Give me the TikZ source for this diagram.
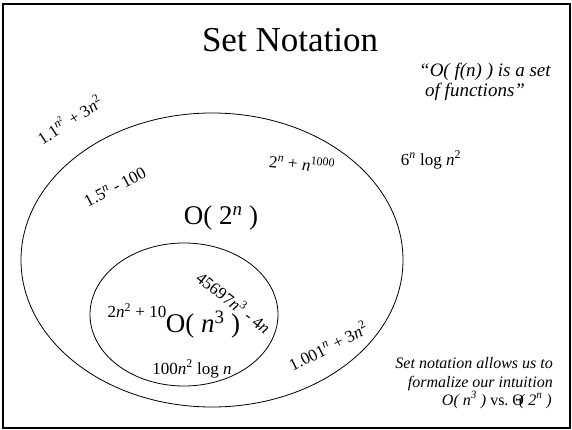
\documentclass[tikz,border=0pt]{standalone}
\usepackage{fontspec}
\setmainfont{Liberation Serif}
\usetikzlibrary{shapes.geometric}
\newcommand{\supr}[1]{\textsuperscript{#1}}
\newcommand{\ii}[1]{\textit{#1}}
\begin{document}
\begin{tikzpicture}[x=1pt,y=-1pt,
  lbl/.style={font=\fontsize{17}{20}\selectfont, inner sep=0pt},
  big/.style={font=\fontsize{27}{30}\selectfont, inner sep=0pt},
  note/.style={font=\fontsize{16}{19}\selectfont\itshape, inner sep=0pt},
  quote/.style={font=\fontsize{19}{20}\selectfont\itshape, inner sep=0pt},
  setring/.style={draw, ellipse, inner sep=0pt, line width=0.8pt}]
\useasboundingbox (0,0) rectangle (572,430);
\draw[line width=2pt] (3,4) rectangle (569.5,428);
\node[font=\fontsize{35}{40}\selectfont, anchor=base, inner sep=0pt] (title) at (290,52) {Set Notation};
\node[quote, anchor=base west] (q1) at (419,77) {“O( f(n) ) is a set};
\node[quote, anchor=base west] (q2) at (425,97) {of functions”};
\node[setring, minimum width=382pt, minimum height=294pt] (outer) at (212,260) {};
\node[setring, minimum width=188pt, minimum height=143pt] (inner) at (184,314.5) {};
\node[lbl, rotate=33] (l11) at (69,119) {1.1\supr{\ii{n}\supr{2}} + 3\ii{n}\supr{2}};
\node[lbl, rotate=28] (l15) at (115,187) {1.5\supr{\ii{n}} - 100};
\node[lbl, rotate=-5] (l2n) at (302,163) {2\supr{\ii{n}} + \ii{n}\supr{1000}};
\node[lbl] (l6n) at (431,160) {6\supr{\ii{n}} log \ii{n}\supr{2}};
\node[big] (o2n) at (221,218) {O( 2\supr{\ii{n}} )};
\node[lbl, rotate=-38] (l45) at (234,302) {45697\ii{n}\supr{3} - 4\ii{n}};
\node[lbl] (l2n2) at (137,311) {2\ii{n}\supr{2} + 10};
\node[big] (on3) at (203,325) {O( \ii{n}\supr{3} )};
\node[lbl] (l100) at (192,369) {100\ii{n}\supr{2} log \ii{n}};
\node[lbl, rotate=27] (l1001) at (328,346) {1.001\supr{\ii{n}} + 3\ii{n}\supr{2}};
\node[note, anchor=base east] (n1) at (553,368) {Set notation allows us to};
\node[note, anchor=base east] (n2) at (553,387) {formalize our intuition};
\node[note, anchor=base east] (n3) at (552,405) {O( \textit{n}\supr{3} ) \upshape vs.\ Θ\kern-5pt\itshape ( 2\supr{\textit{n}} )};
\end{tikzpicture}
\end{document}
